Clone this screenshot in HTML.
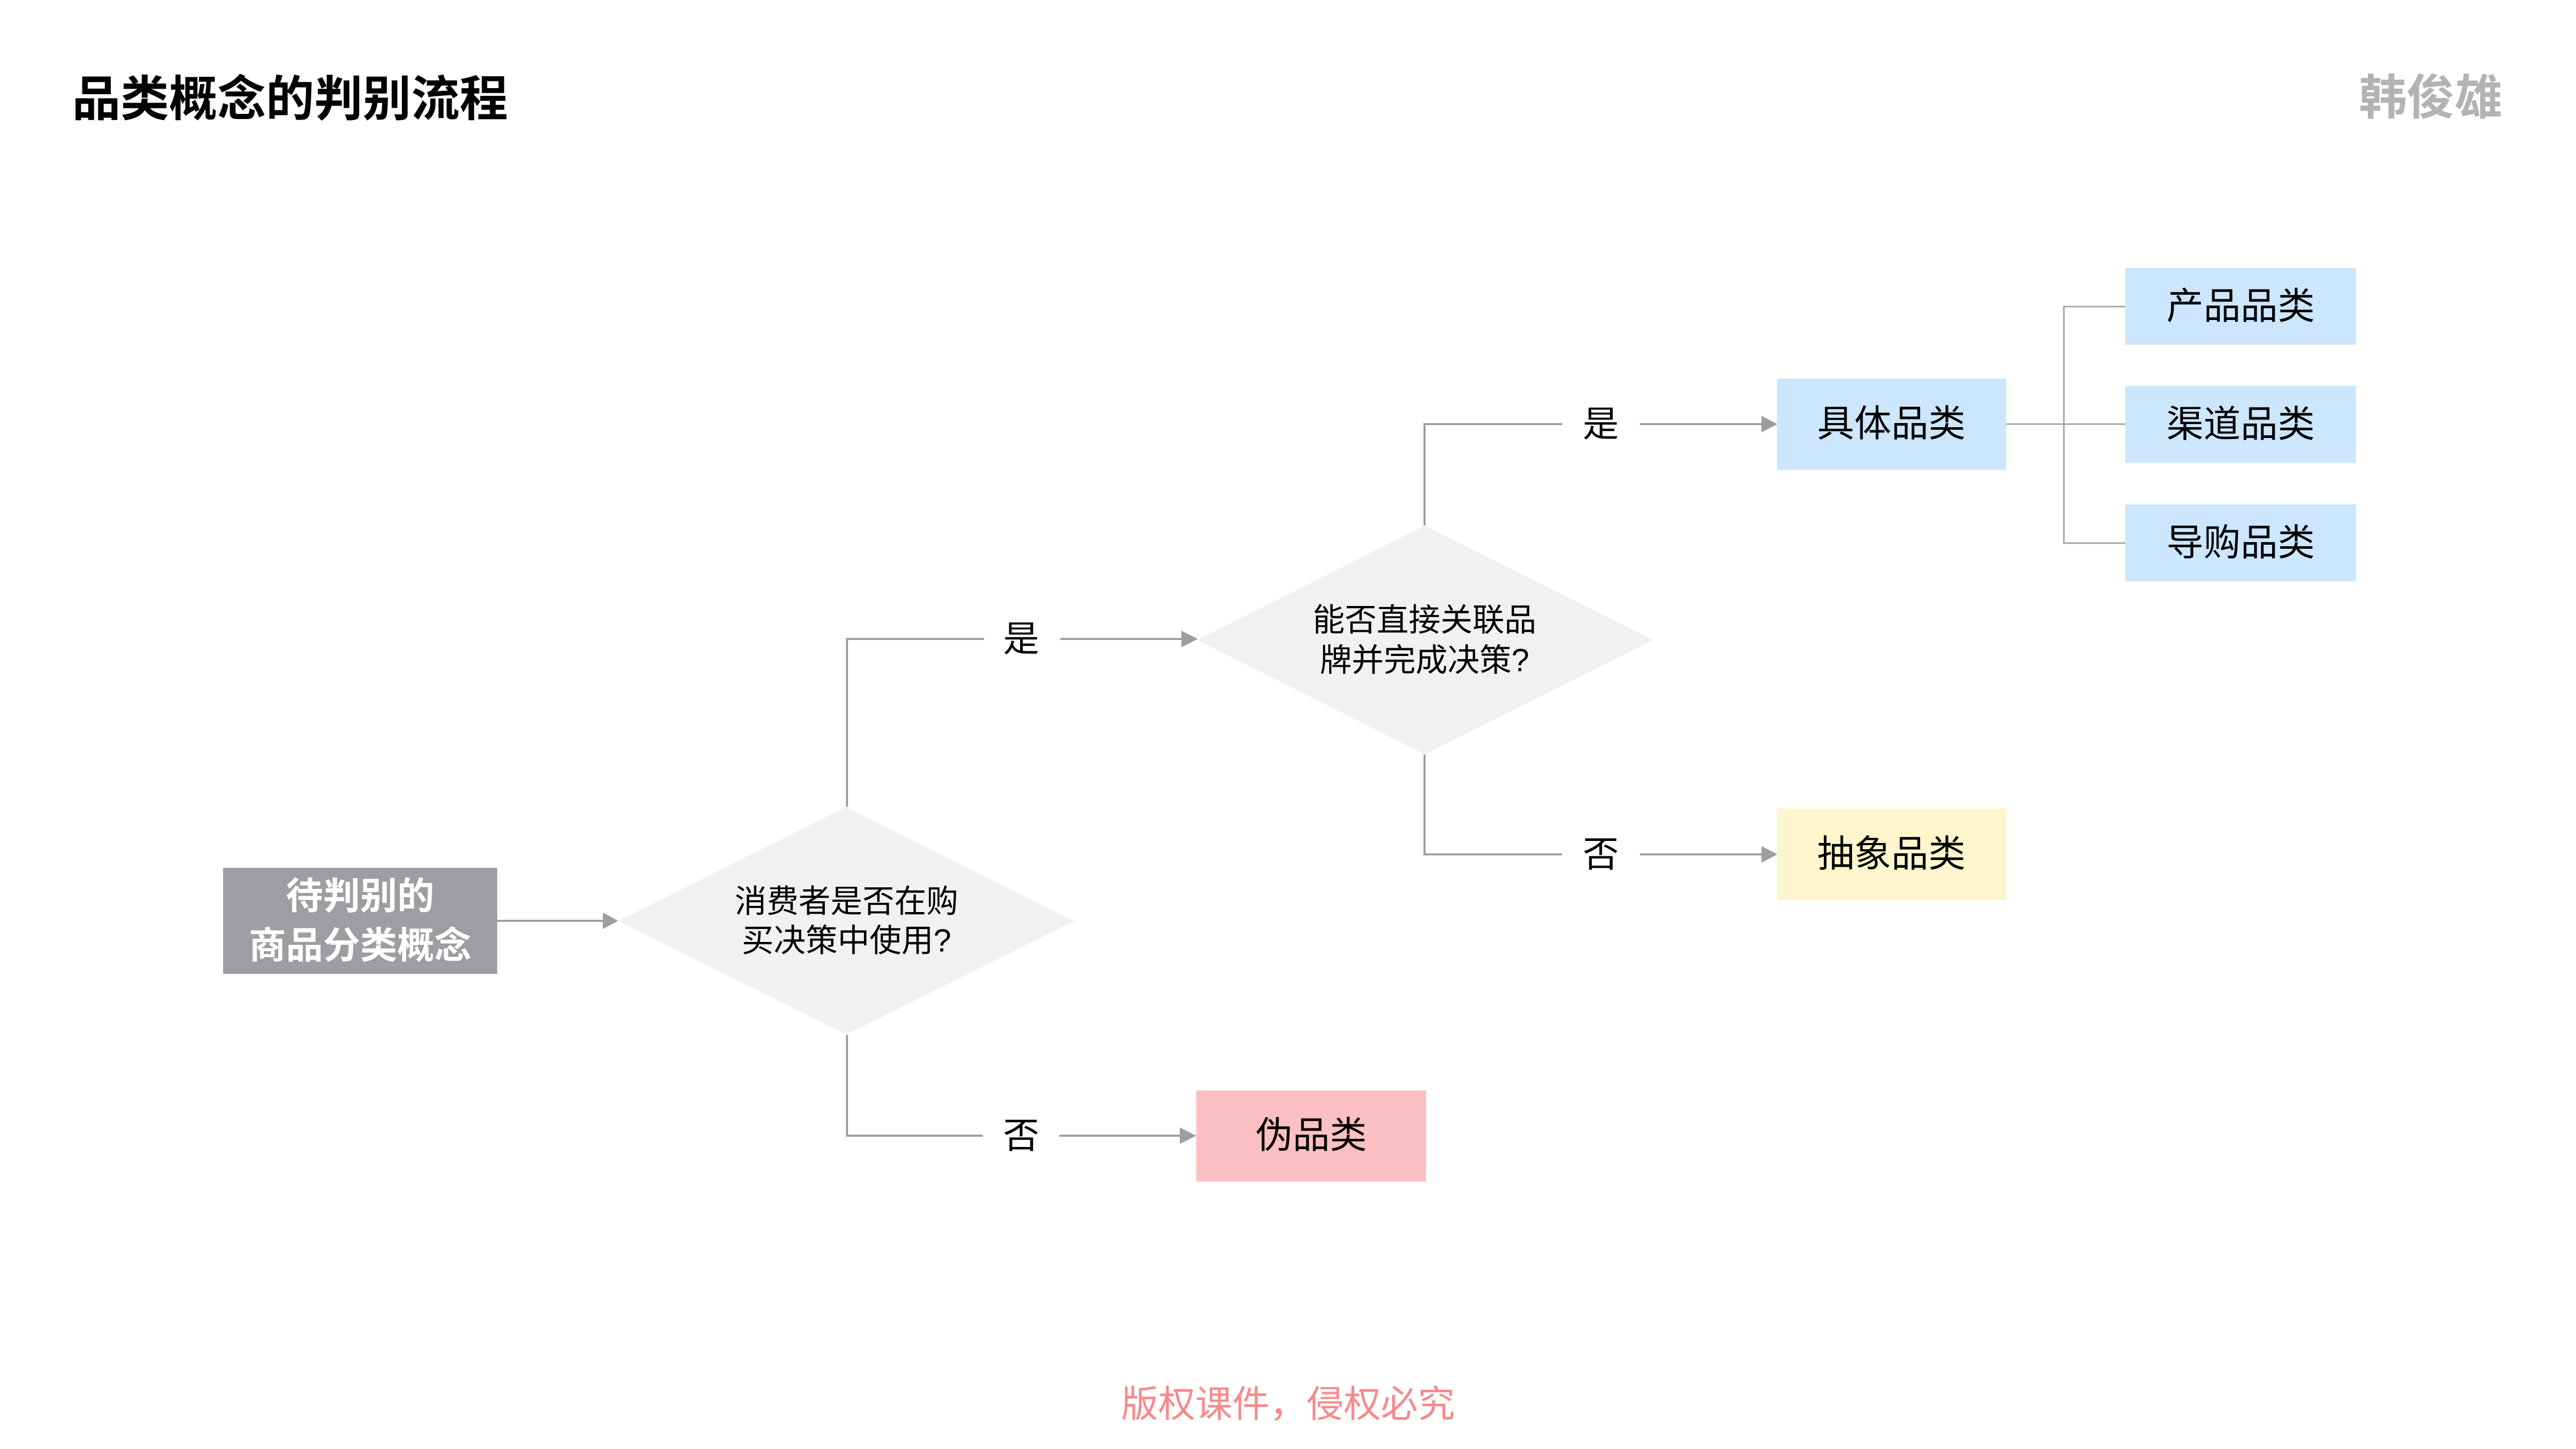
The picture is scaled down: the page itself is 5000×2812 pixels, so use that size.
<!DOCTYPE html>
<html>
<head>
<meta charset="utf-8">
<style>
  html, body { margin: 0; padding: 0; background: #ffffff; }
  body { width: 5000px; height: 2812px; overflow: hidden; }
  svg { display: block; }
  text { font-family: "Liberation Sans", "Noto Sans CJK SC", sans-serif; }
</style>
</head>
<body>
<svg width="5000" height="2812" viewBox="0 0 5000 2812" xmlns="http://www.w3.org/2000/svg">
  <rect x="0" y="0" width="5000" height="2812" fill="#ffffff"/>

  <!-- Title -->
  <text x="140" y="192" font-size="94" font-weight="700" fill="#000000" dominant-baseline="central">品类概念的判别流程</text>
  <!-- Author -->
  <text x="4718" y="190" font-size="93" font-weight="700" fill="#b3b3b3" text-anchor="middle" dominant-baseline="central">韩俊雄</text>

  <!-- Start box -->
  <rect x="433" y="1684" width="532" height="206" fill="#9e9da2"/>
  <text x="699" y="1740" font-size="72" font-weight="700" fill="#ffffff" text-anchor="middle" dominant-baseline="central">待判别的</text>
  <text x="699" y="1836" font-size="72" font-weight="700" fill="#ffffff" text-anchor="middle" dominant-baseline="central">商品分类概念</text>

  <!-- Arrow start -> diamond1 -->
  <line x1="965" y1="1787" x2="1174" y2="1787" stroke="#9e9da2" stroke-width="4"/>
  <polygon points="1170,1771 1200,1787 1170,1803" fill="#9e9da2"/>

  <!-- Diamond 1 -->
  <polygon points="1200,1787 1643,1566 2086,1787 1643,2008" fill="#f1f1f1"/>
  <text x="1643" y="1750" font-size="62" fill="#000000" text-anchor="middle" dominant-baseline="central">消费者是否在购</text>
  <text x="1643" y="1826" font-size="62" fill="#000000" text-anchor="middle" dominant-baseline="central">买决策中使用?</text>

  <!-- Diamond1 yes branch -->
  <polyline points="1644,1566 1644,1240 1910,1240" fill="none" stroke="#9e9da2" stroke-width="4"/>
  <text x="1982" y="1240" font-size="70" fill="#000000" text-anchor="middle" dominant-baseline="central">是</text>
  <line x1="2058" y1="1240" x2="2296" y2="1240" stroke="#9e9da2" stroke-width="4"/>
  <polygon points="2293,1224 2325,1240 2293,1256" fill="#9e9da2"/>

  <!-- Diamond1 no branch -->
  <polyline points="1644,2008 1644,2204 1908,2204" fill="none" stroke="#9e9da2" stroke-width="4"/>
  <text x="1982" y="2204" font-size="70" fill="#000000" text-anchor="middle" dominant-baseline="central">否</text>
  <line x1="2056" y1="2204" x2="2293" y2="2204" stroke="#9e9da2" stroke-width="4"/>
  <polygon points="2290,2188 2322,2204 2290,2220" fill="#9e9da2"/>

  <!-- Pseudo category box -->
  <rect x="2322" y="2116" width="446" height="177" fill="#fdc0c2"/>
  <text x="2545" y="2204" font-size="72" fill="#000000" text-anchor="middle" dominant-baseline="central">伪品类</text>

  <!-- Diamond 2 -->
  <polygon points="2324,1242 2766,1020 3210,1242 2766,1464" fill="#f1f1f1"/>
  <text x="2765" y="1204" font-size="62" fill="#000000" text-anchor="middle" dominant-baseline="central">能否直接关联品</text>
  <text x="2765" y="1282" font-size="62" fill="#000000" text-anchor="middle" dominant-baseline="central">牌并完成决策?</text>

  <!-- Diamond2 yes branch -->
  <polyline points="2765,1020 2765,823 3032,823" fill="none" stroke="#9e9da2" stroke-width="4"/>
  <text x="3107" y="823" font-size="70" fill="#000000" text-anchor="middle" dominant-baseline="central">是</text>
  <line x1="3183" y1="823" x2="3422" y2="823" stroke="#9e9da2" stroke-width="4"/>
  <polygon points="3419,807 3450,823 3419,839" fill="#9e9da2"/>

  <!-- Diamond2 no branch -->
  <polyline points="2765,1464 2765,1658 3032,1658" fill="none" stroke="#9e9da2" stroke-width="4"/>
  <text x="3107" y="1658" font-size="70" fill="#000000" text-anchor="middle" dominant-baseline="central">否</text>
  <line x1="3183" y1="1658" x2="3422" y2="1658" stroke="#9e9da2" stroke-width="4"/>
  <polygon points="3419,1642 3450,1658 3419,1674" fill="#9e9da2"/>

  <!-- Concrete category box -->
  <rect x="3449" y="735" width="445" height="177" fill="#cce6fd"/>
  <text x="3671" y="823" font-size="72" fill="#000000" text-anchor="middle" dominant-baseline="central">具体品类</text>

  <!-- Abstract category box -->
  <rect x="3449" y="1569" width="445" height="178" fill="#fff5cc"/>
  <text x="3671" y="1658" font-size="72" fill="#000000" text-anchor="middle" dominant-baseline="central">抽象品类</text>

  <!-- Branch connectors -->
  <line x1="3894" y1="823" x2="4125" y2="823" stroke="#a3a3a6" stroke-width="3"/>
  <polyline points="4125,595 4006,595 4006,1054 4125,1054" fill="none" stroke="#a3a3a6" stroke-width="3"/>

  <!-- Right boxes -->
  <rect x="4125" y="520" width="448" height="149" fill="#cce6fd"/>
  <text x="4349" y="595" font-size="72" fill="#000000" text-anchor="middle" dominant-baseline="central">产品品类</text>
  <rect x="4125" y="749" width="448" height="149" fill="#cce6fd"/>
  <text x="4349" y="824" font-size="72" fill="#000000" text-anchor="middle" dominant-baseline="central">渠道品类</text>
  <rect x="4125" y="979" width="448" height="149" fill="#cce6fd"/>
  <text x="4349" y="1054" font-size="72" fill="#000000" text-anchor="middle" dominant-baseline="central">导购品类</text>

  <!-- Footer -->
  <text x="2500" y="2726" font-size="72" fill="#f7898b" text-anchor="middle" dominant-baseline="central">版权课件，侵权必究</text>
</svg>
</body>
</html>
